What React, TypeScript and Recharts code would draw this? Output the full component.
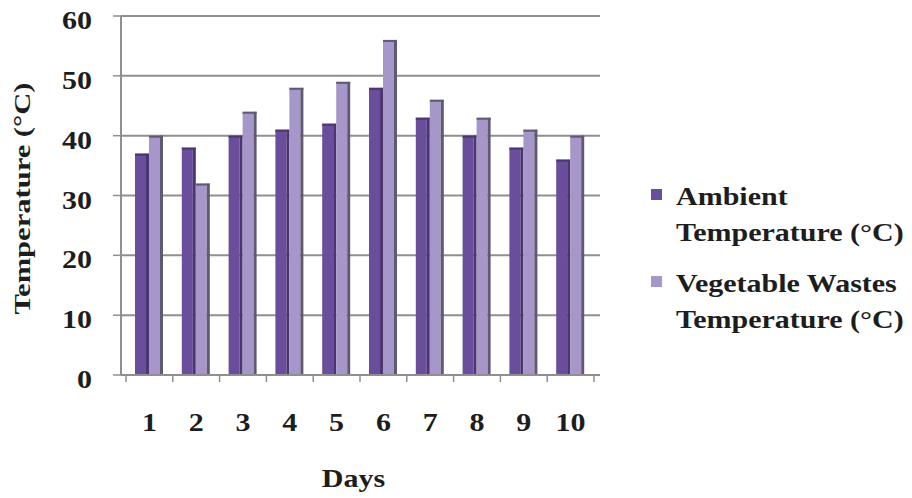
import React from 'react';
import { BarChart, Bar, XAxis, YAxis, CartesianGrid, Legend, Label } from 'recharts';

// Daily temperatures over ten days of composting
const days = ['1', '2', '3', '4', '5', '6', '7', '8', '9', '10'];
const ambientTemp = [37, 38, 40, 41, 42, 48, 43, 40, 38, 36];
const wasteTemp = [40, 32, 44, 48, 49, 56, 46, 43, 41, 40];
const yTicks = [0, 10, 20, 30, 40, 50, 60];
const seriesNames = ['Ambient Temperature (°C)', 'Vegetable Wastes Temperature (°C)'];
const axisTitles = { x: 'Days', y: 'Temperature (°C)' };

const data = days.map((d, i) => ({ day: d, ambient: ambientTemp[i], waste: wasteTemp[i] }));

const FONT = 'Liberation Serif';
const TEXT = '#1d1d1d';
const GRID = '#8f8f8f';
const STRETCH = 1.2;

const AMBIENT = { face: '#6b4e9b', edge: '#4b3670' };
const WASTE = { face: '#a796c9', edge: '#5f5a72' };

function WideText({ x, y, anchor, children, size = 25 }: any) {
  return (
    <text
      transform={`translate(${x},${y}) scale(${STRETCH},1)`}
      textAnchor={anchor}
      style={{ fontFamily: FONT, fontWeight: 700, fontSize: size }}
      fill={TEXT}
    >
      {children}
    </text>
  );
}

// Column with a darker side strip and cap, giving a light 3D feel
function Column({ x, y, width, height, colors }: any) {
  if (!height || height <= 0) return null;
  const side = Math.min(3, width * 0.25);
  return (
    <g>
      <rect x={x} y={y} width={width - side} height={height} fill={colors.face} />
      <rect x={x + width - side} y={y} width={side} height={height} fill={colors.edge} />
      <rect x={x} y={y} width={width} height={2} fill={colors.edge} />
    </g>
  );
}

function YTick({ x, y, payload }: any) {
  return (
    <WideText x={x} y={y + 13} anchor="end">
      {payload.value}
    </WideText>
  );
}

// Category label plus boundary tick marks between days
function XTick({ x, y, payload, index, visibleTicksCount }: any) {
  const half = payload.offset ?? 0;
  const isLast = index === visibleTicksCount - 1;
  return (
    <g>
      <line x1={x - half} x2={x - half} y1={y} y2={y + 7} stroke={GRID} strokeWidth={1.5} />
      {isLast && <line x1={x + half} x2={x + half} y1={y} y2={y + 7} stroke={GRID} strokeWidth={1.5} />}
      <WideText x={x} y={y + 56} anchor="middle">
        {payload.value}
      </WideText>
    </g>
  );
}

function splitName(name: string): string[] {
  const at = name.indexOf(' Temperature');
  return at > 0 ? [name.slice(0, at), name.slice(at + 1)] : [name];
}

function LegendBox({ payload }: any) {
  const items = payload || [];
  return (
    <svg width={272} height={175}>
      {items.map((item: any, i: number) => {
        const lines = splitName(String(item.value));
        const top = i * 87;
        return (
          <g key={i}>
            <rect x={11} y={top + 19} width={11} height={11} fill={item.color} />
            {lines.map((ln, j) => (
              <WideText key={j} x={36} y={top + 35 + j * 36} anchor="start">
                {ln}
              </WideText>
            ))}
          </g>
        );
      })}
    </svg>
  );
}

function YTitle({ viewBox }: any) {
  const cy = viewBox.y + viewBox.height / 2 + 3;
  return (
    <text
      transform={`translate(30,${cy}) rotate(-90)`}
      textAnchor="middle"
      style={{ fontFamily: FONT, fontWeight: 700, fontSize: 24 }}
      fill={TEXT}
      textLength={232}
      lengthAdjust="spacingAndGlyphs"
    >
      {axisTitles.y}
    </text>
  );
}

function XTitle({ viewBox }: any) {
  const cx = viewBox.x + viewBox.width / 2 - 7;
  return (
    <WideText x={cx} y={487} anchor="middle">
      {axisTitles.x}
    </WideText>
  );
}

export default function App() {
  return (
    <div style={{ position: 'absolute', left: 0, top: 0, width: 912, height: 498, background: '#ffffff' }}>
      <BarChart
        width={912}
        height={498}
        data={data}
        margin={{ top: 16, right: 312, bottom: 0, left: 0 }}
        barGap={0}
        barSize={14}
      >
        <CartesianGrid horizontal vertical={false} stroke={GRID} strokeWidth={2} />
        <XAxis
          dataKey="day"
          height={123}
          padding={{ left: 5, right: 6 }}
          axisLine={{ stroke: GRID, strokeWidth: 2 }}
          tickLine={false}
          tickSize={0}
          tickMargin={0}
          interval={0}
          tick={<XTick />}
        >
          <Label content={<XTitle />} />
        </XAxis>
        <YAxis
          width={121}
          domain={[0, 60]}
          ticks={yTicks}
          interval={0}
          axisLine={{ stroke: GRID, strokeWidth: 2 }}
          tickLine={{ stroke: GRID, strokeWidth: 1.5 }}
          tickSize={8}
          tickMargin={21}
          tick={<YTick />}
        >
          <Label content={<YTitle />} />
        </YAxis>
        <Legend
          layout="vertical"
          align="center"
          verticalAlign="middle"
          content={<LegendBox />}
          wrapperStyle={{ position: 'absolute', left: 640, top: 170, width: 272, height: 175 }}
        />
        <Bar
          dataKey="ambient"
          name={seriesNames[0]}
          fill={AMBIENT.face}
          isAnimationActive={false}
          shape={(p: any) => <Column {...p} colors={AMBIENT} />}
        />
        <Bar
          dataKey="waste"
          name={seriesNames[1]}
          fill={WASTE.face}
          isAnimationActive={false}
          shape={(p: any) => <Column {...p} colors={WASTE} />}
        />
      </BarChart>
    </div>
  );
}
